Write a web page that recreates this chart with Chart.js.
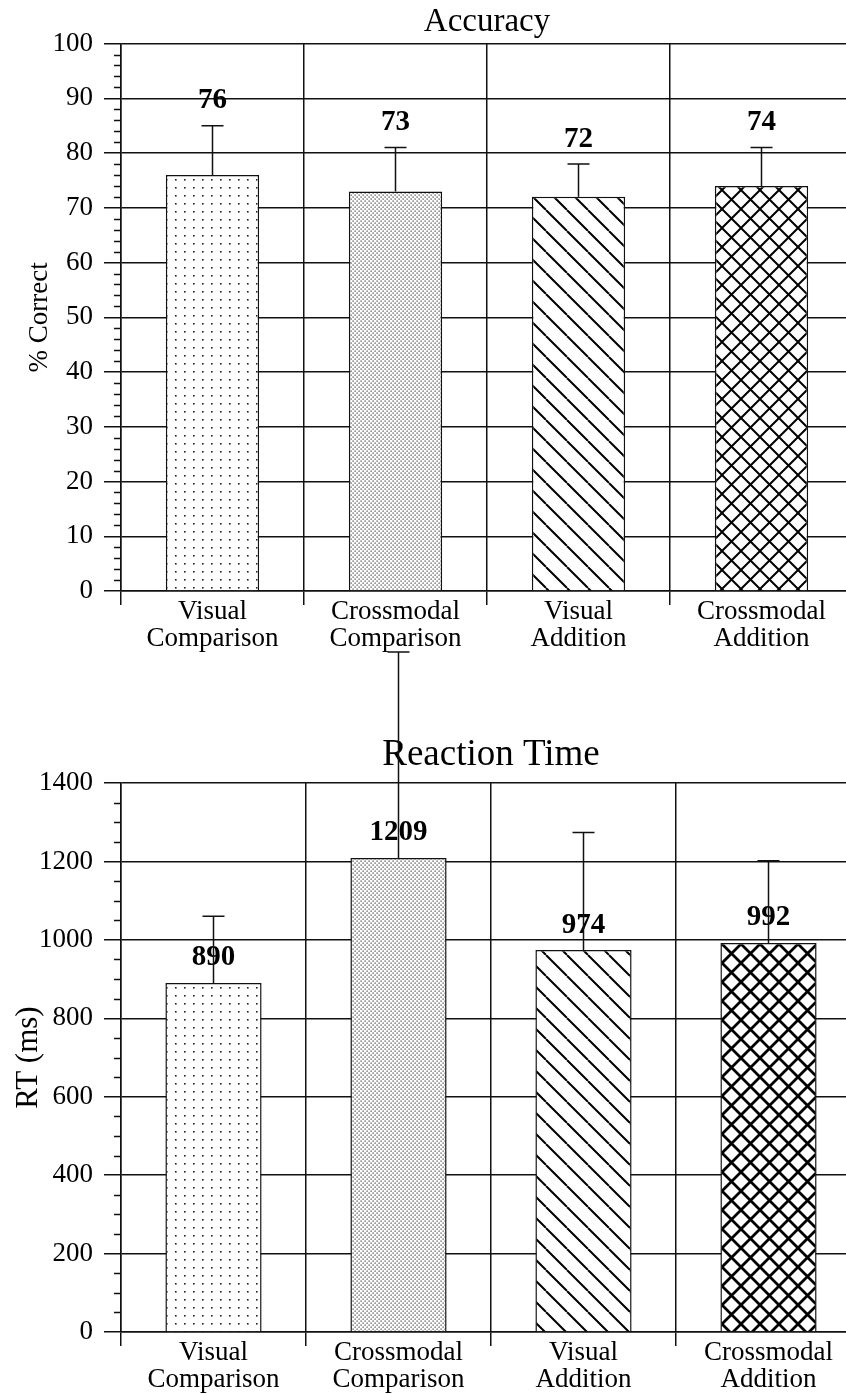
<!DOCTYPE html>
<html>
<head>
<meta charset="utf-8">
<title>Accuracy and Reaction Time</title>
<script src="https://cdn.jsdelivr.net/npm/chart.js@4.4.0/dist/chart.umd.min.js"></script>
<style>
  html, body { margin: 0; padding: 0; background: #fff; overflow: hidden; }
  body { width: 846px; height: 1395px; position: relative; }
  canvas { position: absolute; left: 0; }
  #accChart { top: 0; }
  #rtChart { top: 640px; }
</style>
</head>
<body>
<canvas id="accChart" width="856" height="660"></canvas>
<canvas id="rtChart" width="864" height="755"></canvas>
<script>
'use strict';

let conditions = [['Visual', 'Comparison'], ['Crossmodal', 'Comparison'], ['Visual', 'Addition'], ['Crossmodal', 'Addition']];

// % correct, with the upper error bar length
let accMeans = [76, 73, 72, 74];
let accErrors = [9, 8, 6, 7];
let accTicks = [0, 10, 20, 30, 40, 50, 60, 70, 80, 90, 100];

// reaction time in ms
let rtMeans = [890, 1209, 974, 992];
let rtErrors = [170, 525, 300, 210];
let rtTicks = [0, 200, 400, 600, 800, 1000, 1200, 1400];

let serif = "'Liberation Serif', 'Times New Roman', serif";
let ink = '#111';

// fill patterns for the four bars
function sparseDots(ctx) {
    let c = document.createElement('canvas');
    c.width = 9; c.height = 8;
    let g = c.getContext('2d');
    g.fillStyle = '#fff'; g.fillRect(0, 0, 9, 8);
    g.fillStyle = '#222'; g.fillRect(4, 3, 1.6, 1.6);
    return ctx.createPattern(c, 'repeat');
}

function denseDots(ctx) {
    let c = document.createElement('canvas');
    c.width = 4; c.height = 4;
    let g = c.getContext('2d');
    g.fillStyle = '#fff'; g.fillRect(0, 0, 4, 4);
    g.fillStyle = '#333';
    g.fillRect(0.5, 0.5, 1.2, 1.2);
    g.fillRect(2.5, 2.5, 1.2, 1.2);
    return ctx.createPattern(c, 'repeat');
}

function backStripes(ctx, size, width) {
    let c = document.createElement('canvas');
    c.width = size; c.height = size;
    let g = c.getContext('2d');
    g.fillStyle = '#fff'; g.fillRect(0, 0, size, size);
    g.strokeStyle = '#000'; g.lineWidth = width;
    g.beginPath();
    for (let k = -size; k <= size; k += size) {
        g.moveTo(k, 0); g.lineTo(k + size, size);
    }
    g.stroke();
    return ctx.createPattern(c, 'repeat');
}

function crossHatch(ctx, size, width) {
    let c = document.createElement('canvas');
    c.width = size; c.height = size;
    let g = c.getContext('2d');
    g.fillStyle = '#fff'; g.fillRect(0, 0, size, size);
    g.strokeStyle = '#000'; g.lineWidth = width;
    g.beginPath();
    for (let k = -size; k <= size; k += size) {
        g.moveTo(k, 0); g.lineTo(k + size, size);
        g.moveTo(k, size); g.lineTo(k + size, 0);
    }
    g.stroke();
    return ctx.createPattern(c, 'repeat');
}

// short outward ticks between the labelled values
let minorTicks = {
    id: 'minorTicks',
    afterDraw(chart, args, opts) {
        let y = chart.scales.y;
        let ctx = chart.ctx;
        ctx.save();
        ctx.strokeStyle = ink;
        ctx.lineWidth = 1.5;
        ctx.beginPath();
        for (let v = y.min; v <= y.max; v += opts.step) {
            if (v % opts.major === 0) continue;
            let py = Math.round(y.getPixelForValue(v)) + 0.5;
            ctx.moveTo(y.right - 7, py);
            ctx.lineTo(y.right, py);
        }
        ctx.stroke();
        ctx.restore();
    }
};

// error bar above each bar plus the bold mean value
let errorBars = {
    id: 'errorBars',
    afterDatasetsDraw(chart, args, opts) {
        let ctx = chart.ctx;
        let y = chart.scales.y;
        let values = chart.data.datasets[0].data;
        ctx.save();
        chart.getDatasetMeta(0).data.forEach((bar, i) => {
            let top = y.getPixelForValue(values[i] + opts.errors[i]);
            let anchor = opts.labelOverError ? top : bar.y;
            ctx.font = 'bold 29px ' + serif;
            ctx.textAlign = 'center';
            ctx.textBaseline = 'middle';
            ctx.fillStyle = '#000';
            ctx.fillText(String(values[i]), bar.x, anchor - 25);

            ctx.strokeStyle = ink;
            ctx.lineWidth = 1.5;
            ctx.beginPath();
            ctx.moveTo(bar.x, bar.y);
            ctx.lineTo(bar.x, top);
            ctx.moveTo(bar.x - 11, top);
            ctx.lineTo(bar.x + 11, top);
            ctx.stroke();
        });
        ctx.restore();
    }
};

function buildChart(id, cfg) {
    let canvas = document.getElementById(id);
    return new Chart(canvas, {
        type: 'bar',
        data: {
            labels: conditions,
            datasets: [{
                data: cfg.means,
                backgroundColor: cfg.fills,
                borderColor: ink,
                borderWidth: 1.5,
                barPercentage: cfg.barWidth,
                categoryPercentage: 1
            }]
        },
        options: {
            responsive: false,
            animation: false,
            layout: { padding: { top: 0, right: 3, bottom: 0, left: 0 } },
            plugins: {
                legend: { display: false },
                tooltip: { enabled: false },
                title: {
                    display: true,
                    text: cfg.title,
                    fullSize: false,
                    color: '#000',
                    font: { family: serif, size: cfg.titleSize, weight: 'normal', lineHeight: 1.2 },
                    padding: cfg.titlePad
                },
                minorTicks: { step: cfg.minorStep, major: cfg.majorStep },
                errorBars: { errors: cfg.errors, labelOverError: cfg.labelOverError }
            },
            scales: {
                x: {
                    grid: { color: ink, lineWidth: 1.5, tickLength: 14, offset: true },
                    border: { color: ink, width: 1.5 },
                    ticks: {
                        color: '#000',
                        font: { family: serif, size: 27, lineHeight: 1 },
                        padding: -7,
                        maxRotation: 0,
                        autoSkip: false
                    },
                    afterFit: s => { s.height = cfg.xHeight; }
                },
                y: {
                    min: cfg.ticks[0],
                    max: cfg.ticks[cfg.ticks.length - 1],
                    afterBuildTicks: s => { s.ticks = cfg.ticks.map(v => ({ value: v })); },
                    grid: { color: ink, lineWidth: 1.5, tickLength: 17 },
                    border: { color: ink, width: 1.5 },
                    ticks: {
                        color: '#000',
                        font: { family: serif, size: 27 },
                        padding: 11,
                        callback: v => String(v)
                    },
                    title: {
                        display: true,
                        text: cfg.yTitle,
                        color: '#000',
                        font: { family: serif, size: cfg.yTitleSize, lineHeight: 1.2 },
                        padding: { top: cfg.yTitlePad, bottom: 0 }
                    },
                    afterFit: s => { s.width = 121; }
                }
            }
        },
        plugins: [minorTicks, errorBars]
    });
}

let accCtx = document.getElementById('accChart').getContext('2d');
buildChart('accChart', {
    means: accMeans,
    errors: accErrors,
    ticks: accTicks,
    fills: [sparseDots(accCtx), denseDots(accCtx), backStripes(accCtx, 21, 2), crossHatch(accCtx, 19, 2)],
    barWidth: 0.51,
    title: 'Accuracy',
    titleSize: 33,
    titlePad: { top: 3, bottom: 1 },
    yTitle: '% Correct',
    yTitleSize: 27,
    yTitlePad: 24,
    minorStep: 2,
    majorStep: 10,
    labelOverError: true,
    xHeight: 69
});

let rtCtx = document.getElementById('rtChart').getContext('2d');
buildChart('rtChart', {
    means: rtMeans,
    errors: rtErrors,
    ticks: rtTicks,
    fills: [sparseDots(rtCtx), denseDots(rtCtx), backStripes(rtCtx, 21, 2), crossHatch(rtCtx, 19, 2.8)],
    barWidth: 0.52,
    title: 'Reaction Time',
    titleSize: 37,
    titlePad: { top: 93, bottom: 5.6 },
    yTitle: 'RT (ms)',
    yTitleSize: 31,
    yTitlePad: 10,
    minorStep: 50,
    majorStep: 200,
    labelOverError: false,
    xHeight: 63
});
</script>
</body>
</html>
